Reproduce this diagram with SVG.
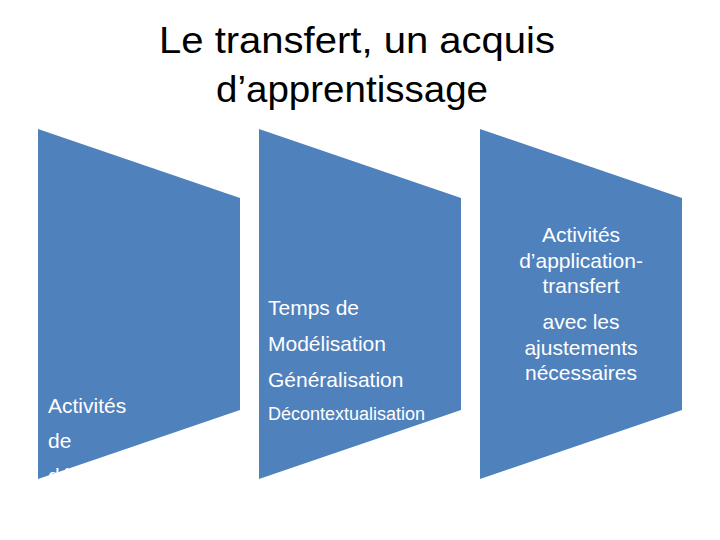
<svg xmlns="http://www.w3.org/2000/svg" width="720" height="540" viewBox="0 0 720 540">
  <style>
    .shape { fill: #4F81BD; }
    .title { font-family: "Liberation Sans", Arial, sans-serif; font-size: 37px; fill: #000000; text-anchor: middle; }
    .lbl { font-family: "Liberation Sans", Arial, sans-serif; font-size: 21px; fill: #FFFFFF; }
    .small { font-size: 18px; }
    .ctr { text-anchor: middle; }
  </style>
  <defs>
    <clipPath id="clip1">
      <rect x="38" y="129" width="202" height="350"/>
    </clipPath>
  </defs>
  <rect width="720" height="540" fill="#FFFFFF"/>
  <g id="title">
    <text class="title" x="357" y="53" textLength="396" lengthAdjust="spacingAndGlyphs">Le transfert, un acquis</text>
    <text class="title" x="352" y="102" textLength="272" lengthAdjust="spacingAndGlyphs">d’apprentissage</text>
  </g>
  <g id="connectors"></g>
  <g id="node1">
    <polygon class="shape" points="38,129 240,198 240,410 38,479"/>
    <g clip-path="url(#clip1)">
      <text class="lbl" x="48" y="413">Activités</text>
      <text class="lbl" x="48" y="448">de</text>
      <text class="lbl" x="48" y="483">découverte</text>
    </g>
  </g>
  <g id="node2">
    <polygon class="shape" points="259,129 461,198 461,410 259,479"/>
    <text class="lbl" x="268" y="315">Temps de</text>
    <text class="lbl" x="268" y="351">Modélisation</text>
    <text class="lbl" x="268" y="387">Généralisation</text>
    <text class="lbl small" x="268" y="420">Décontextualisation</text>
  </g>
  <g id="node3">
    <polygon class="shape" points="480,129 682,198 682,410 480,479"/>
    <text class="lbl ctr" x="581" y="242">Activités</text>
    <text class="lbl ctr" x="581" y="268">d’application-</text>
    <text class="lbl ctr" x="581" y="293">transfert</text>
    <text class="lbl ctr" x="581" y="329">avec les</text>
    <text class="lbl ctr" x="581" y="355">ajustements</text>
    <text class="lbl ctr" x="581" y="380">nécessaires</text>
  </g>
</svg>
